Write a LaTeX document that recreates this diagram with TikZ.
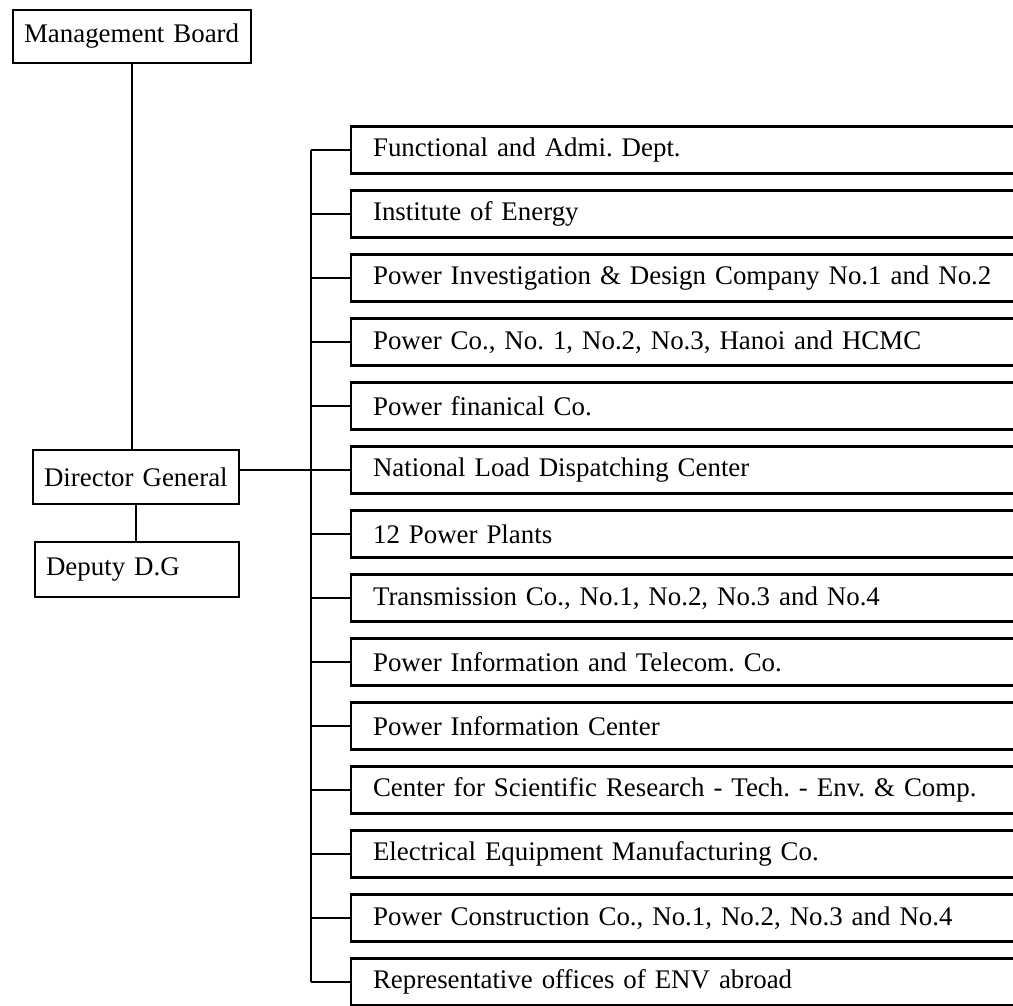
\documentclass[tikz,border=0pt]{standalone}
\usepackage{fontspec}
\setmainfont{Liberation Serif}
\frenchspacing
\usetikzlibrary{positioning}
\tikzset{
  box/.style={draw,line width=1.2pt,anchor=west,align=left,inner xsep=0.22cm,inner ysep=0pt,
              font=\fontsize{15.3}{18}\selectfont},
  % the unit boxes run off the right edge of the page
  unit/.style={box,inner xsep=0.44cm,text width=13cm,minimum height=0.94cm},
  link/.style={line width=1.3pt},
}
\begin{document}
\begin{tikzpicture}
  \useasboundingbox (0,0) rectangle (20.26,-20.12);
  \clip (0,0) rectangle (20.26,-20.12);
  % left column
  \node[box,text width=4.32cm,minimum height=1.06cm] (board) at (0.24,-0.73) {Management Board};
  \node[box,text width=3.68cm,minimum height=1.08cm] (dg) at (0.64,-9.54) {Director General};
  \node[box,text width=3.64cm,minimum height=1.10cm] (deputy) at (0.68,-11.39) {Deputy D.G};
  \draw[link] (board.south) -- (board.south |- dg.north);
  \draw[link] (dg.south) -- (dg.south |- deputy.north);
  % units under the director general
  \foreach \name [count=\i from 0] in {
      Functional and Admi. Dept.,
      Institute of Energy,
      Power Investigation \& Design Company No.1 and No.2,
      {Power Co., No. 1, No.2, No.3, Hanoi and HCMC},
      Power finanical Co.,
      National Load Dispatching Center,
      12 Power Plants,
      {Transmission Co., No.1, No.2, No.3 and No.4},
      Power Information and Telecom. Co.,
      Power Information Center,
      Center for Scientific Research - Tech. - Env. \& Comp.,
      Electrical Equipment Manufacturing Co.,
      {Power Construction Co., No.1, No.2, No.3 and No.4},
      Representative offices of ENV abroad}
    \node[unit] (unit\i) at (7.0,{-3.0-1.28*\i}) {\name};
  \foreach \i in {0,...,13}
    \draw[link] (unit\i.west) -- ++(-0.78,0);
  \draw[link] ([xshift=-0.78cm]unit0.west) -- ([xshift=-0.78cm]unit13.west);
  \draw[link] (dg.east |- unit5.west) -- (unit5.west);
\end{tikzpicture}
\end{document}
